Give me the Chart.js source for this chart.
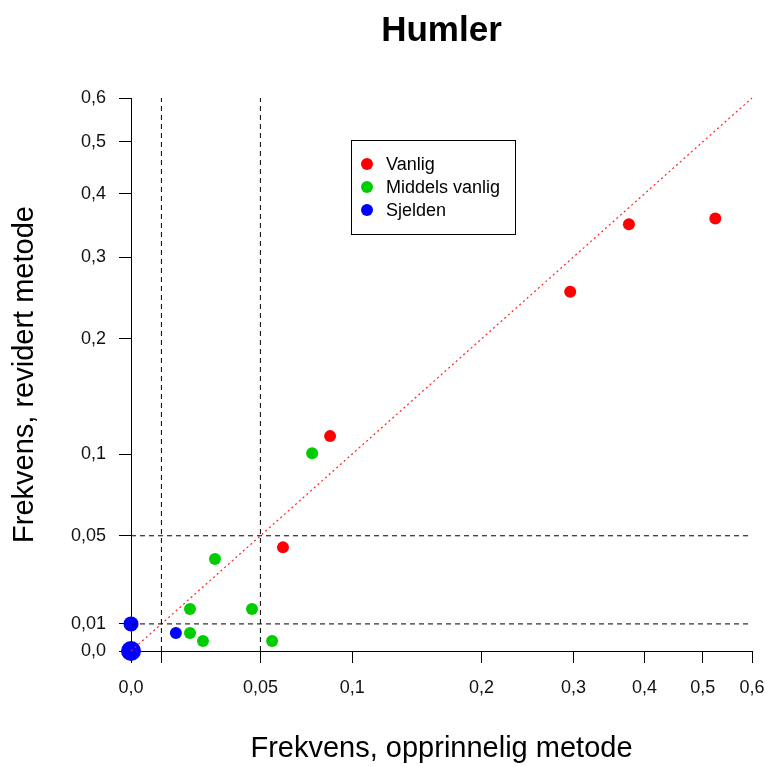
<!DOCTYPE html>
<html>
<head>
<meta charset="utf-8">
<title>Humler</title>
<script src="https://cdn.jsdelivr.net/npm/chart.js@4/dist/chart.umd.min.js"></script>
<style>
  body { margin: 0; background: #fff; }
  canvas { display: block; }
</style>
</head>
<body>
<canvas id="humlerChart" width="765" height="767"></canvas>
<script>
// DATA - frekvens per art, opprinnelig vs revidert metode
const vanligX = [0.524, 0.376, 0.296, 0.0866, 0.061];
const vanligY = [0.358, 0.349, 0.254, 0.113, 0.044];

const middelsX = [0.0764, 0.0301, 0.0461, 0.0203, 0.0203, 0.0253, 0.0556];
const middelsY = [0.1006, 0.0382, 0.0159, 0.0159, 0.0065, 0.0036, 0.0036];

const sjeldenX = [0.0151, 0, 0];
const sjeldenY = [0.0065, 0.01, 0];

const xTicks = [0, 0.01, 0.05, 0.1, 0.2, 0.3, 0.4, 0.5, 0.6];
const xTickLabels = ["0,0", "", "0,05", "0,1", "0,2", "0,3", "0,4", "0,5", "0,6"];
const yTicks = [0, 0.01, 0.05, 0.1, 0.2, 0.3, 0.4, 0.5, 0.6];
const yTickLabels = ["0,0", "0,01", "0,05", "0,1", "0,2", "0,3", "0,4", "0,5", "0,6"];

// grense-linjer (stiplet)
const cutoffs = [0.01, 0.05];

const FONT = "'Liberation Sans', Arial, sans-serif";

// SCALE: log(p + 0.1), keeps 0 on the axis
const SHIFT = 0.1;
class ShiftLogScale extends Chart.LinearScale {
    configure() {
        super.configure();
        this._tMin = Math.log(this.min + SHIFT);
        this._tMax = Math.log(this.max + SHIFT);
    }
    getPixelForValue(value) {
        const t = (Math.log(value + SHIFT) - this._tMin) / (this._tMax - this._tMin);
        return this.getPixelForDecimal(t);
    }
    getValueForPixel(pixel) {
        const t = this.getDecimalForPixel(pixel);
        return Math.exp(this._tMin + t * (this._tMax - this._tMin)) - SHIFT;
    }
}
ShiftLogScale.id = "shiftlog";
ShiftLogScale.defaults = Chart.LinearScale.defaults;
Chart.register(ShiftLogScale);

function toPoints(xs, ys) {
    return xs.map((x, i) => ({ x: x, y: ys[i] }));
}

function pointSet(label, xs, ys, color, radius) {
    return {
        type: "scatter",
        label: label,
        data: toPoints(xs, ys),
        backgroundColor: color,
        borderColor: color,
        borderWidth: 0,
        pointRadius: radius,
        pointHoverRadius: radius,
        clip: false,
        order: 2
    };
}

function refLine(points, color, dash, width) {
    return {
        type: "line",
        data: points,
        borderColor: color,
        borderWidth: width || 1,
        borderDash: dash,
        pointRadius: 0,
        fill: false,
        clip: false,
        order: 1,
        isRef: true
    };
}

const datasets = [
    pointSet("Vanlig", vanligX, vanligY, "#ff0000", 6),
    pointSet("Middels vanlig", middelsX, middelsY, "#00cd00", 6),
    pointSet("Sjelden", sjeldenX, sjeldenY, "#0000ff", [6, 7.5, 10])
];

cutoffs.forEach(c => {
    datasets.push(refLine([{ x: c, y: 0 }, { x: c, y: 0.6 }], "#000", [5, 4]));
    datasets.push(refLine([{ x: 0, y: c }, { x: 0.6, y: c }], "#000", [5, 4]));
});
// y = x
datasets.push(refLine([{ x: 0, y: 0 }, { x: 0.6, y: 0.6 }], "#ff2020", [2, 3], 1.2));

// LEGEND BOX inside the plot
const legendBox = {
    id: "legendBox",
    afterDraw(chart) {
        const ctx = chart.ctx;
        const items = chart.data.datasets.filter(d => !d.isRef);
        ctx.save();
        ctx.strokeStyle = "#000";
        ctx.lineWidth = 1;
        ctx.strokeRect(351.5, 140.5, 164, 94);
        ctx.font = "18px " + FONT;
        ctx.textAlign = "left";
        ctx.textBaseline = "middle";
        items.forEach((d, i) => {
            const y = 164 + i * 23;
            ctx.fillStyle = d.backgroundColor;
            ctx.beginPath();
            ctx.arc(367, y, 6, 0, Math.PI * 2);
            ctx.fill();
            ctx.fillStyle = "#000";
            ctx.fillText(d.label, 386, y + 1);
        });
        ctx.restore();
    }
};

function axis(ticks, labels, title, isX) {
    return {
        type: "shiftlog",
        min: 0,
        max: 0.6,
        z: 1,
        afterBuildTicks: s => {
            s.ticks = ticks.map(v => ({ value: v }));
        },
        afterFit: s => {
            if (isX) s.height = 116; else s.width = 131;
            s.paddingLeft = 0;
            s.paddingRight = 0;
        },
        ticks: {
            autoSkip: false,
            maxRotation: 0,
            padding: isX ? 14 : 13,
            color: "#111",
            font: { family: FONT, size: 18 },
            callback: (v, i) => labels[i]
        },
        grid: {
            drawOnChartArea: false,
            drawTicks: true,
            tickLength: 12,
            tickColor: "#000",
            color: "#000"
        },
        border: { display: true, color: "#000", width: 1 },
        title: {
            display: true,
            text: title,
            color: "#000",
            font: { family: FONT, size: 29 },
            padding: isX ? { top: 4, bottom: 1 } : { top: 8, bottom: 4 }
        }
    };
}

const ctx = document.getElementById("humlerChart").getContext("2d");
new Chart(ctx, {
    data: { datasets: datasets },
    options: {
        responsive: false,
        animation: false,
        layout: { padding: { left: 0, right: 13, top: 0, bottom: 0 } },
        plugins: {
            legend: { display: false },
            tooltip: { enabled: false },
            title: {
                display: true,
                text: "Humler",
                fullSize: false,
                color: "#000",
                font: { family: FONT, size: 35, weight: "bold" },
                padding: { top: 10, bottom: 46 }
            }
        },
        scales: {
            x: axis(xTicks, xTickLabels, "Frekvens, opprinnelig metode", true),
            y: axis(yTicks, yTickLabels, "Frekvens, revidert metode", false)
        }
    },
    plugins: [legendBox]
});
</script>
</body>
</html>
